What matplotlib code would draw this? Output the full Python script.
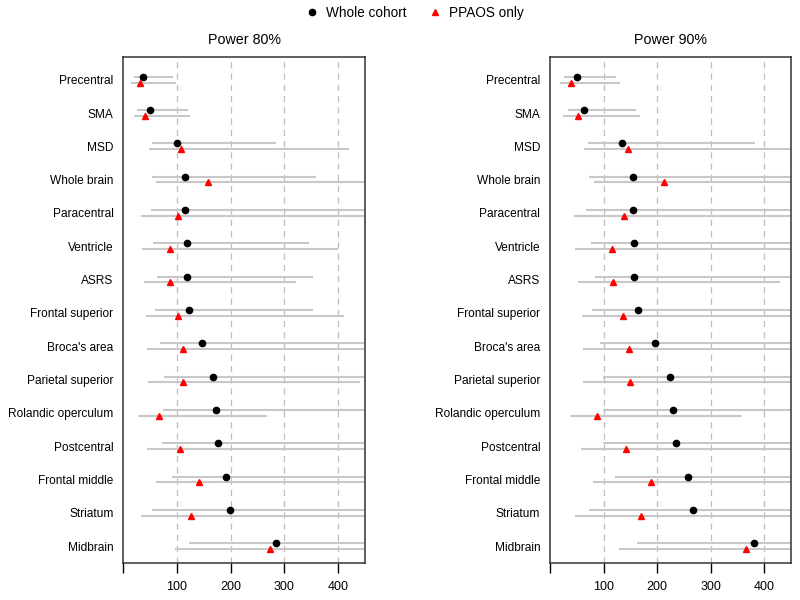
import numpy as np
import matplotlib.pyplot as plt
from matplotlib.lines import Line2D

plt.rcParams["font.family"] = ["Liberation Sans", "DejaVu Sans"]

regions = ["Precentral", "SMA", "MSD", "Whole brain", "Paracentral", "Ventricle",
           "ASRS", "Frontal superior", "Broca's area", "Parietal superior",
           "Rolandic operculum", "Postcentral", "Frontal middle", "Striatum", "Midbrain"]

# Power 80% -- whole cohort (estimate, lower, upper)
p80_all = [37, 49, 101, 115, 115, 118, 118, 122, 147, 168, 172, 176, 192, 199, 284]
p80_all_lo = [20, 26, 54, 54, 51, 56, 63, 59, 69, 76, 74, 73, 91, 54, 123]
p80_all_hi = [93, 121, 285, 359, 500, 346, 353, 353, 500, 500, 500, 500, 500, 500, 500]
# Power 80% -- PPAOS only
p80_pp = [31, 40, 107, 158, 103, 88, 88, 102, 111, 112, 66, 105, 142, 127, 274]
p80_pp_lo = [15, 20, 48, 61, 33, 35, 38, 43, 45, 46, 28, 45, 61, 33, 97]
p80_pp_hi = [99, 125, 420, 500, 500, 400, 322, 411, 500, 441, 268, 500, 500, 500, 500]

# Power 90% -- whole cohort
p90_all = [51, 64, 134, 155, 155, 157, 157, 164, 195, 224, 229, 235, 257, 267, 381]
p90_all_lo = [26, 34, 71, 72, 68, 76, 84, 78, 93, 99, 99, 98, 122, 72, 163]
p90_all_hi = [124, 160, 382, 500, 500, 500, 500, 500, 500, 500, 500, 500, 500, 500, 500]
# Power 90% -- PPAOS only
p90_pp = [40, 53, 145, 212, 138, 116, 118, 137, 147, 150, 87, 141, 189, 169, 366]
p90_pp_lo = [18, 25, 64, 82, 45, 47, 52, 59, 62, 62, 37, 57, 81, 46, 129]
p90_pp_hi = [130, 167, 500, 500, 500, 500, 430, 500, 500, 500, 359, 500, 500, 500, 500]

panels = [
    ("Power 80%", p80_all, p80_all_lo, p80_all_hi, p80_pp, p80_pp_lo, p80_pp_hi),
    ("Power 90%", p90_all, p90_all_lo, p90_all_hi, p90_pp, p90_pp_lo, p90_pp_hi),
]

fig = plt.figure(figsize=(8, 6), dpi=100)
axes = [fig.add_axes([0.154, 0.062, 0.302, 0.8435]),
        fig.add_axes([0.6875, 0.062, 0.3015, 0.8435])]

rows = np.arange(len(regions))
off = 0.085
grey = "#c8c8c8"

for ax, (title, a, alo, ahi, p, plo, phi) in zip(axes, panels):
    for x in [100, 200, 300, 400]:
        ax.axvline(x, color="#bdbdbd", ls=(0, (5, 4)), lw=0.9, zorder=0)
    ax.hlines(rows - off, alo, ahi, color=grey, lw=1.5, zorder=1)
    ax.hlines(rows + off, plo, phi, color=grey, lw=1.5, zorder=1)
    ax.plot(a, rows - off, "o", color="black", ms=4.5, zorder=3)
    ax.plot(p, rows + off, "^", color="red", ms=5, zorder=3)
    ax.set_xlim(0, 450)
    ax.set_ylim(14.5, -0.69)
    ax.set_yticks(rows)
    ax.set_yticklabels(regions, fontsize=8.6)
    ax.tick_params(axis="y", length=0, pad=7)
    ax.set_xticks([0, 100, 200, 300, 400])
    ax.set_xticklabels(["", "100", "200", "300", "400"], fontsize=9)
    ax.tick_params(axis="x", length=7, pad=6, width=1)
    for s in ax.spines.values():
        s.set_color("#333333")
        s.set_linewidth(1.1)
    ax.set_title(title, fontsize=10.3, pad=9)

handles = [
    Line2D([], [], marker="o", ls="", color="black", ms=4.5, label="Whole cohort"),
    Line2D([], [], marker="^", ls="", color="red", ms=5, label="PPAOS only"),
]
fig.legend(handles=handles, loc="center", bbox_to_anchor=(0.519, 0.978), ncol=2,
           frameon=False, fontsize=9.8, handlelength=0.8, handletextpad=0.6,
           columnspacing=1.7)

fig.savefig("out.png", dpi=100)
